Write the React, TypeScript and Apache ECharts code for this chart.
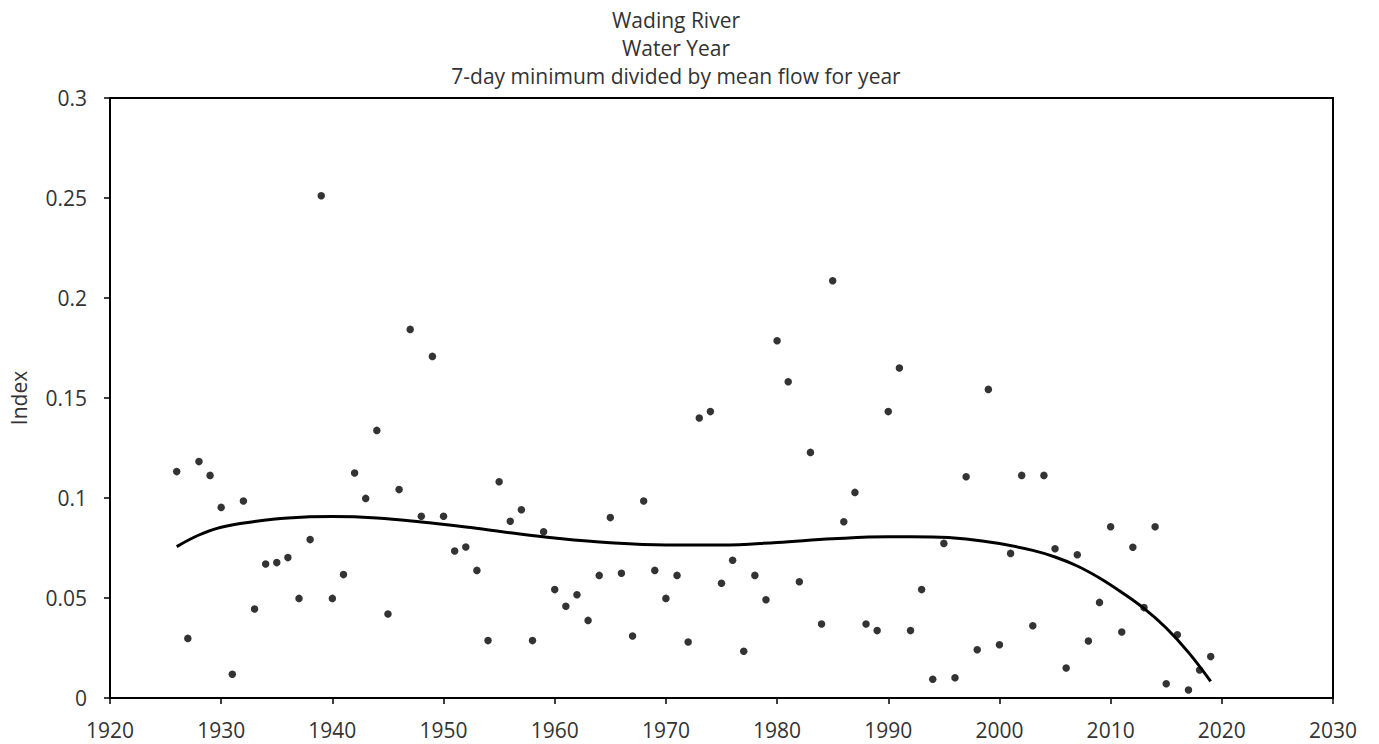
import React, { useEffect, useRef } from "react";
import * as echarts from "echarts";

const titleLines = ["Wading River", "Water Year", "7-day minimum divided by mean flow for year"];
const yAxisName = "Index";

const years = [
  1926, 1927, 1928, 1929, 1930, 1931, 1932, 1933, 1934, 1935, 1936, 1937, 1938, 1939, 1940,
  1941, 1942, 1943, 1944, 1945, 1946, 1947, 1948, 1949, 1950, 1951, 1952, 1953, 1954, 1955,
  1956, 1957, 1958, 1959, 1960, 1961, 1962, 1963, 1964, 1965, 1966, 1967, 1968, 1969, 1970,
  1971, 1972, 1973, 1974, 1975, 1976, 1977, 1978, 1979, 1980, 1981, 1982, 1983, 1984, 1985,
  1986, 1987, 1988, 1989, 1990, 1991, 1992, 1993, 1994, 1995, 1996, 1997, 1998, 1999, 2000,
  2001, 2002, 2003, 2004, 2005, 2006, 2007, 2008, 2009, 2010, 2011, 2012, 2013, 2014, 2015,
  2016, 2017, 2018, 2019,
];

const indexValues = [
  0.1132, 0.0298, 0.1182, 0.1113, 0.0953, 0.0119, 0.0985, 0.0445, 0.067, 0.0677, 0.0702, 0.0498, 0.0792, 0.2511, 0.0498,
  0.0617, 0.1125, 0.0998, 0.1338, 0.042, 0.1042, 0.1843, 0.0909, 0.1708, 0.0909, 0.0735, 0.0755, 0.0638, 0.0287, 0.1081,
  0.0884, 0.0941, 0.0287, 0.0831, 0.0542, 0.0459, 0.0516, 0.0388, 0.0613, 0.0902, 0.0624, 0.031, 0.0985, 0.0638, 0.0498,
  0.0613, 0.028, 0.14, 0.1432, 0.0574, 0.0689, 0.0234, 0.0613, 0.0491, 0.1786, 0.1581, 0.0581, 0.1228, 0.037, 0.2086,
  0.0881, 0.1028, 0.037, 0.0337, 0.1432, 0.165, 0.0337, 0.0542, 0.0094, 0.0773, 0.0101, 0.1106, 0.0241, 0.1543, 0.0266,
  0.0723, 0.1113, 0.0361, 0.1113, 0.0746, 0.015, 0.0716, 0.0285, 0.0478, 0.0856, 0.033, 0.0754, 0.0452, 0.0856, 0.0071,
  0.0316, 0.004, 0.014, 0.0207,
];

// Trend line
const trendYears = [
  1926, 1928, 1930, 1933, 1936, 1940, 1944, 1948, 1952, 1956, 1960, 1965, 1970, 1975, 1980,
  1985, 1990, 1994, 1997, 2000, 2003, 2005, 2007, 2009, 2011, 2013, 2015, 2017, 2019,
];
const trendValues = [
  0.0757, 0.0815, 0.0854, 0.0882, 0.09, 0.0907, 0.09, 0.088, 0.0855, 0.0826, 0.08, 0.0776, 0.0765, 0.0765, 0.0778,
  0.0796, 0.0806, 0.0805, 0.0795, 0.0772, 0.0738, 0.0705, 0.066, 0.06, 0.0528, 0.0448, 0.035, 0.0228, 0.0083,
];

const xTicks = { min: 1920, max: 2030, interval: 10 };
const yTicks = { min: 0, max: 0.3, interval: 0.05 };

export default function App() {
  const ref = useRef<HTMLDivElement>(null);
  useEffect(() => {
    if (!ref.current) return;
    const chart = echarts.init(ref.current, undefined, { renderer: "svg" });
    const font = "Open Sans, Noto Sans, sans-serif";
    const textColor = "#333333";
    chart.setOption({
      animation: false,
      backgroundColor: "#ffffff",
      title: {
        text: titleLines.join("\n"),
        left: 671,
        textAlign: "center",
        top: 1,
        textStyle: { fontFamily: font, fontSize: 21, fontWeight: "normal", color: textColor, lineHeight: 28 },
      },
      grid: {
        left: 110,
        right: 46,
        top: 98,
        bottom: 46,
        show: true,
        borderColor: "#000",
        borderWidth: 2,
        backgroundColor: "transparent",
      },
      xAxis: {
        type: "value",
        min: xTicks.min,
        max: xTicks.max,
        interval: xTicks.interval,
        splitLine: { show: false },
        axisLine: { show: true, lineStyle: { color: "#000", width: 2 } },
        axisTick: { show: true, length: 6, inside: false, lineStyle: { color: "#000", width: 1.5 } },
        axisLabel: { fontFamily: font, fontSize: 21, color: textColor, margin: 21, formatter: (v: number) => String(v) },
      },
      yAxis: {
        type: "value",
        min: yTicks.min,
        max: yTicks.max,
        interval: yTicks.interval,
        name: yAxisName,
        nameLocation: "middle",
        nameGap: 81,
        nameRotate: 90,
        nameTextStyle: { fontFamily: font, fontSize: 21, color: textColor },
        splitLine: { show: false },
        axisLine: { show: true, lineStyle: { color: "#000", width: 2 } },
        axisTick: { show: true, length: 6, inside: false, lineStyle: { color: "#000", width: 1.5 } },
        axisLabel: {
          fontFamily: font,
          fontSize: 21,
          color: textColor,
          margin: 23,
          formatter: (v: number) => String(parseFloat(v.toFixed(2))),
        },
      },
      series: [
        {
          type: "line",
          data: trendYears.map((y, i) => [y, trendValues[i]]),
          smooth: 0.4,
          showSymbol: false,
          symbol: "none",
          lineStyle: { color: "#000", width: 3 },
          z: 2,
        },
        {
          type: "scatter",
          data: years.map((y, i) => [y, indexValues[i]]),
          symbol: "circle",
          symbolSize: 7.5,
          itemStyle: { color: "#000" },
          z: 3,
        },
      ],
    });
    return () => chart.dispose();
  }, []);
  return (
    <div
      ref={ref}
      style={{ position: "fixed", left: 0, top: 0, width: 1379, height: 744, background: "#fff" }}
    />
  );
}
